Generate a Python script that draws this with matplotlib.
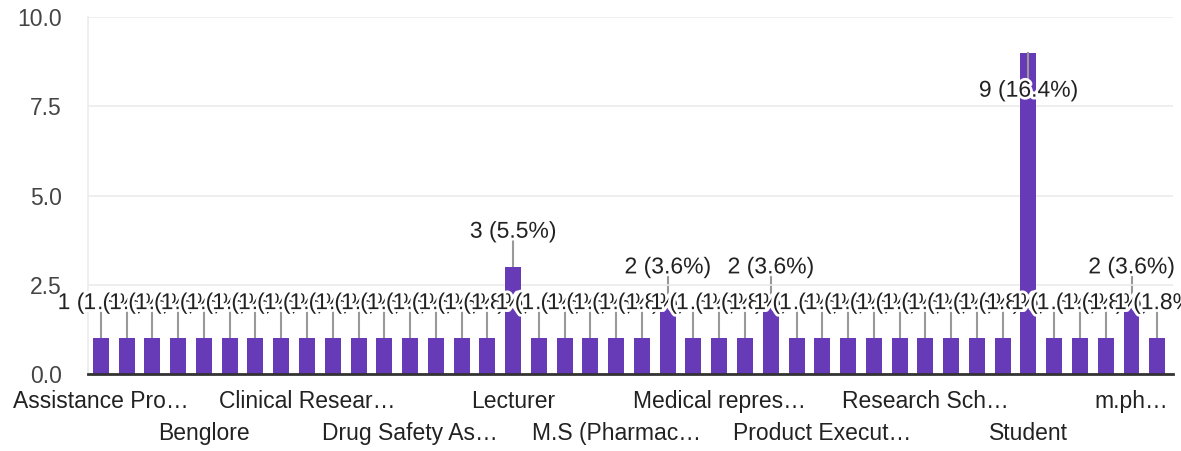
import matplotlib
matplotlib.use("Agg")
import matplotlib.pyplot as plt
import matplotlib.patheffects as pe

plt.rcParams['font.family'] = ['Liberation Sans', 'DejaVu Sans']

# answers, sorted the way the form sorts them
categories = [
    "Assistance Professor", "Assistant Manager", "Assistant Professor", "Associate Professor",
    "Benglore", "Business Development", "Chemist", "Clinical Pharmacist",
    "Clinical Research Associate", "Data Analyst", "Doctor", "Drug Inspector",
    "Drug Safety Associate", "Executive", "Hospital Pharmacist", "Lab Assistant",
    "Lecturer", "M.Pharm", "M.Pharm (Pharmaceutics)", "M.Pharm student",
    "M.S (Pharmacology)", "Manager", "Medical Coder", "Medical Writer",
    "Medical representative", "Pharmacist", "Pharmacovigilance", "Pharmacy",
    "Product Executive", "Professor", "QA Executive", "QC Analyst",
    "Research Scholar", "Research associate", "Scientist", "Sr. Executive",
    "Student", "Teacher", "Trainee", "Unemployed", "m.pharm", "pharmacist",
]
counts = [1, 1, 1, 1, 1, 1, 1, 1, 1, 1, 1, 1, 1, 1, 1, 1,
          3, 1, 1, 1, 1, 1, 2, 1, 1, 1, 2, 1, 1, 1, 1, 1,
          1, 1, 1, 1, 9, 1, 1, 1, 2, 1]

# only every 4th answer gets a label on the axis, in two staggered rows
tick_labels = ["Assistance Pro…", "Benglore", "Clinical Resear…", "Drug Safety As…",
               "Lecturer", "M.S (Pharmac…", "Medical repres…", "Product Execut…",
               "Research Sch…", "Student", "m.ph…"]

total = sum(counts)
purple = "#673ab7"
txt = "#222222"
fs = 16.5

fig = plt.figure(figsize=(11.81, 4.51), dpi=100)
ax = fig.add_axes([0.0745, 0.1707, 0.9185, 0.7916])

x = list(range(len(counts)))
ax.bar(x, counts, width=0.62, color=purple, zorder=2)

ax.set_xlim(-0.5, 41.6)
ax.set_ylim(0, 10)
ax.set_yticks([0, 2.5, 5, 7.5, 10])
ax.set_yticklabels(["0.0", "2.5", "5.0", "7.5", "10.0"])
ax.tick_params(axis='y', length=0, pad=19, labelsize=fs, labelcolor="#444444")
ax.set_xticks([])
ax.yaxis.grid(True, color="#ebebeb", lw=1.2, zorder=0)
for s in ["top", "right"]:
    ax.spines[s].set_visible(False)
ax.spines["left"].set_color("#ebebeb")
ax.spines["left"].set_linewidth(1.2)
ax.spines["bottom"].set_color("#333333")
ax.spines["bottom"].set_linewidth(2)
ax.spines["bottom"].set_zorder(4)

halo = [pe.withStroke(linewidth=4, foreground="white")]
for i, v in enumerate(counts):
    lab = f"{v} ({v / total * 100:.1f}%)"
    ly = min(v + 1.0, 7.95)
    if ly > v:
        ax.plot([i, i], [v, v + 0.75], color="#999999", lw=1.5, zorder=1)
    else:
        ax.plot([i, i], [v, ly + 0.35], color="#999999", lw=1.5, zorder=3)
    ax.text(i, ly, lab, ha="center", va="center", fontsize=fs, color=txt,
            path_effects=halo, zorder=5 + i)

for k, lab in enumerate(tick_labels):
    row = k % 2
    ax.annotate(lab, xy=(k * 4, 0), xycoords=('data', 'axes fraction'),
                xytext=(0, -20 - row * 23), textcoords='offset points',
                ha="center", va="center", fontsize=fs, color=txt)

fig.savefig("out.png", dpi=100)
